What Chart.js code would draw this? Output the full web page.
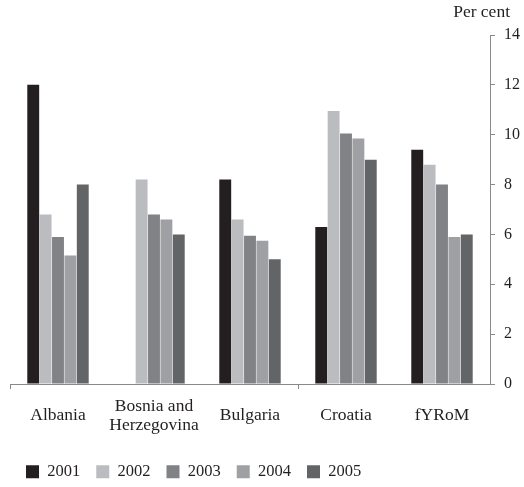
<!DOCTYPE html>
<html>
<head>
<meta charset="utf-8">
<script src="https://cdn.jsdelivr.net/npm/chart.js@4"></script>
<style>
  html, body { margin: 0; padding: 0; background: #ffffff; }
  #wrap { width: 524px; height: 487px; }
</style>
</head>
<body>
<div id="wrap"><canvas id="c" width="524" height="487"></canvas></div>
<script>
const categories = ['Albania', ['Bosnia and', 'Herzegovina'], 'Bulgaria', 'Croatia', 'fYRoM'];
const years = ['2001', '2002', '2003', '2004', '2005'];
const v2001 = [12.0, null, 8.2, 6.3, 9.4];
const v2002 = [6.8, 8.2, 6.6, 10.95, 8.8];
const v2003 = [5.9, 6.8, 5.95, 10.05, 8.0];
const v2004 = [5.15, 6.6, 5.75, 9.85, 5.9];
const v2005 = [8.0, 6.0, 5.0, 9.0, 6.0];
const yTicks = [0, 2, 4, 6, 8, 10, 12, 14];
const unitLabel = 'Per cent';

const colors = ['#231f20', '#bbbcbf', '#808285', '#9fa0a3', '#636466'];
const seriesValues = [v2001, v2002, v2003, v2004, v2005];
const FONT = 'Liberation Serif';
const TXT = '#231f20';
const AXIS = '#8a8a8a';

const unitPlugin = {
  id: 'unitLabel',
  afterDraw(chart) {
    const y = chart.scales.y;
    const ctx = chart.ctx;
    ctx.save();
    ctx.font = '17.5px "' + FONT + '"';
    ctx.fillStyle = TXT;
    ctx.textAlign = 'right';
    ctx.textBaseline = 'middle';
    ctx.fillText(unitLabel, y.right - 10, y.top - 23);
    ctx.restore();
  }
};

new Chart(document.getElementById('c'), {
  type: 'bar',
  data: {
    labels: categories,
    datasets: years.map((yr, i) => ({
      label: yr,
      data: seriesValues[i],
      backgroundColor: colors[i],
      borderWidth: 0,
      categoryPercentage: 0.645,
      barPercentage: 0.96
    }))
  },
  options: {
    responsive: false,
    animation: false,
    layout: { padding: { left: 10, right: 4, top: 35, bottom: -3 } },
    plugins: {
      legend: {
        position: 'bottom',
        align: 'start',
        labels: {
          boxWidth: 13,
          boxHeight: 13,
          padding: 16,
          color: TXT,
          font: { family: FONT, size: 16.5 }
        }
      },
      tooltip: { enabled: false }
    },
    scales: {
      x: {
        grid: {
          drawOnChartArea: false,
          offset: true,
          tickLength: 5,
          color: (ctx) => (ctx.index === 0 || ctx.index === 3) ? AXIS : 'rgba(0,0,0,0)'
        },
        border: { color: AXIS, width: 1 },
        ticks: {
          color: TXT,
          font: { family: FONT, size: 17.5, lineHeight: 1.1 },
          padding: 17,
          maxRotation: 0,
          autoSkip: false,
          crossAlign: 'center'
        },
        afterFit: (scale) => { scale.height -= 14; }
      },
      y: {
        position: 'right',
        min: 0,
        max: 14,
        afterBuildTicks: (scale) => { scale.ticks = yTicks.map(v => ({ value: v })); },
        afterFit: (scale) => { scale.width = 30; },
        grid: {
          drawOnChartArea: false,
          tickLength: 5,
          color: AXIS
        },
        border: { color: AXIS, width: 1 },
        ticks: {
          color: TXT,
          font: { family: FONT, size: 16 },
          padding: 9
        }
      }
    }
  },
  plugins: [unitPlugin]
});
</script>
</body>
</html>
